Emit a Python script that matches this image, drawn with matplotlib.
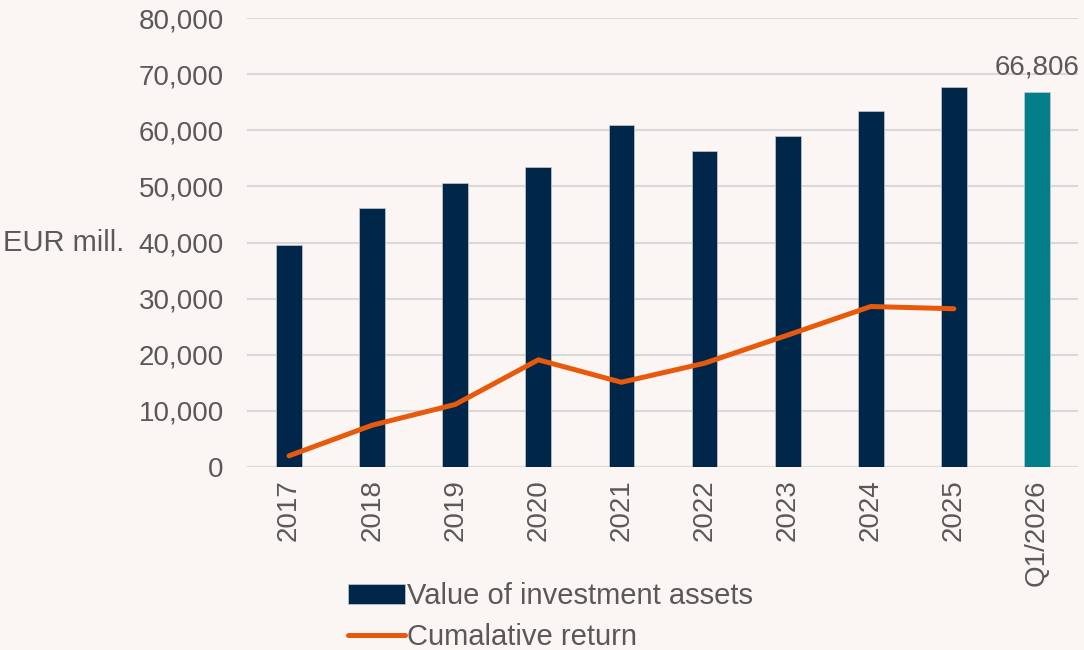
import matplotlib.pyplot as plt
import numpy as np

plt.rcParams['font.family'] = ['Liberation Sans', 'DejaVu Sans']

categories = ['2017', '2018', '2019', '2020', '2021', '2022', '2023', '2024', '2025', 'Q1/2026']
assets = [39500, 46100, 50600, 53400, 60900, 56300, 59050, 63400, 67650, 66806]
cum_return = [2000, 7450, 11150, 19100, 15100, 18500, 23500, 28600, 28200]

bg = '#FBF6F3'
navy = '#00264A'
teal = '#037F8A'
orange = '#E8590C'
grey_text = '#595959'

fig = plt.figure(figsize=(10.84, 6.5), dpi=100, facecolor=bg)
ax = fig.add_axes([0.2283, 0.2815, 0.7666, 0.6908])
ax.set_facecolor(bg)

x = np.arange(len(categories))
colors = [navy] * (len(categories) - 1) + [teal]
bars = ax.bar(x, assets, width=0.31, color=colors, edgecolor='#C5CBD3', linewidth=0.5,
              zorder=2, label='Value of investment assets')
line, = ax.plot(x[:len(cum_return)], cum_return, color=orange, lw=3.6,
                solid_capstyle='round', solid_joinstyle='round', zorder=3,
                label='Cumalative return')

ax.annotate(f'{assets[-1]:,}', (x[-1], assets[-1]), xytext=(0, 13), textcoords='offset points',
            ha='center', va='baseline', fontsize=20, color=grey_text)

ax.set_xlim(-0.5, len(categories) - 0.5)
ax.set_ylim(0, 80000)
ax.set_yticks(np.arange(0, 80001, 10000))
ax.set_yticklabels([f'{v:,}' for v in range(0, 80001, 10000)])
ax.set_xticks(x)
ax.set_xticklabels(categories, rotation=90, va='top', ha='center')
ax.tick_params(axis='both', length=0, labelsize=20, labelcolor=grey_text)
ax.tick_params(axis='y', pad=17)
ax.tick_params(axis='x', pad=9)
ax.grid(axis='y', color='#D9D9D9', lw=1.5, zorder=0)
for s in ax.spines.values():
    s.set_visible(False)

fig.text(3 / 1084, 1 - 243 / 650, 'EUR mill.', fontsize=21, color=grey_text,
         ha='left', va='center')

leg = fig.legend([bars, line], ['Value of investment assets', 'Cumalative return'],
                 loc='upper left', bbox_to_anchor=(348 / 1084, 1 - 582 / 650),
                 frameon=False, fontsize=21, handlelength=1.95, handletextpad=0.08,
                 labelspacing=0.45, borderpad=0, borderaxespad=0)
for t in leg.get_texts():
    t.set_color(grey_text)

fig.savefig('out.png', dpi=100, facecolor=bg)
